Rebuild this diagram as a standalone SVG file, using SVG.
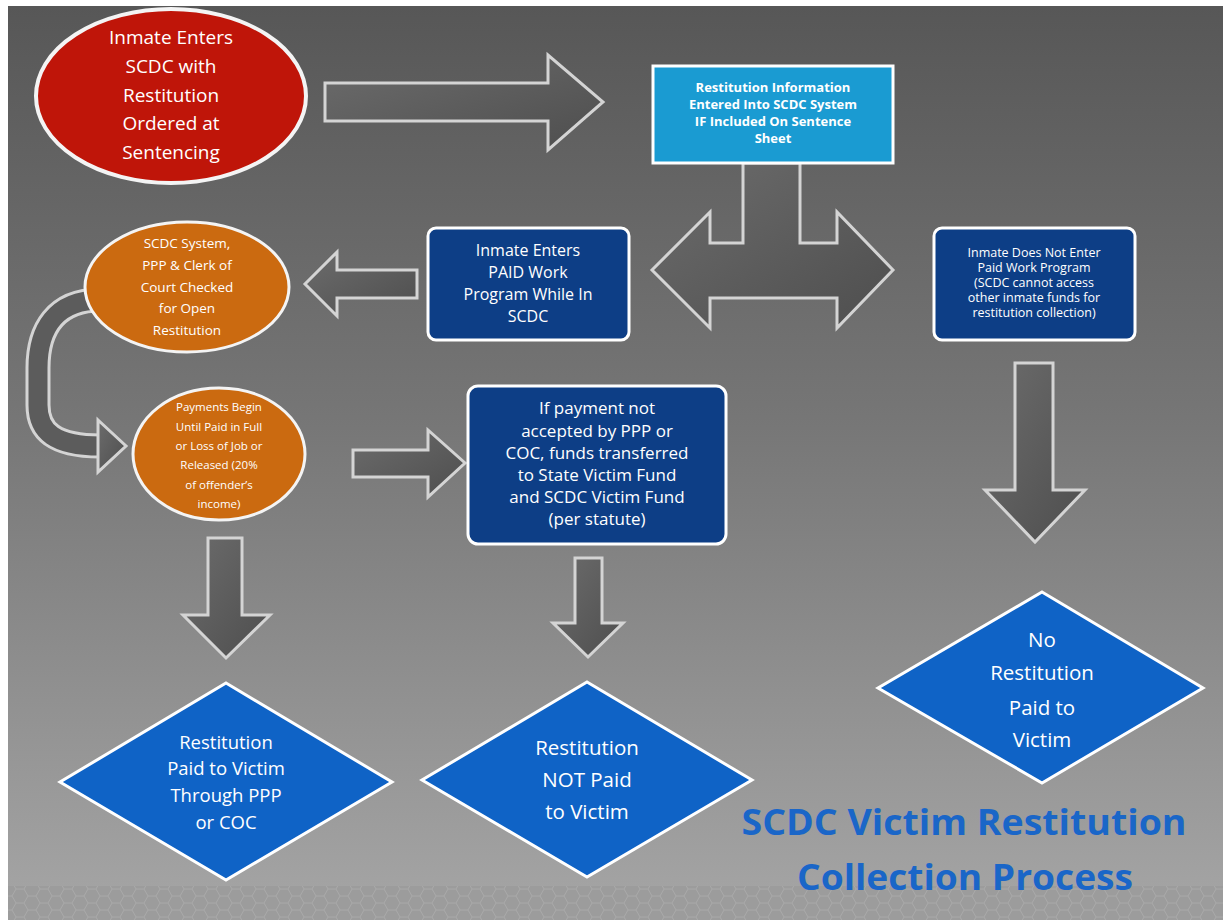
<svg xmlns="http://www.w3.org/2000/svg" width="1223" height="920" viewBox="0 0 1223 920">
<defs>
<linearGradient id="bg" x1="0" y1="0" x2="0" y2="1">
<stop offset="0" stop-color="#575757"/>
<stop offset="0.45" stop-color="#767676"/>
<stop offset="1" stop-color="#a6a6a6"/>
</linearGradient>
<linearGradient id="ag" x1="0" y1="0" x2="1" y2="1">
<stop offset="0" stop-color="#6c6c6c"/>
<stop offset="1" stop-color="#4e4e4e"/>
</linearGradient>
<pattern id="hex" width="24" height="14" patternUnits="userSpaceOnUse">
<path d="M0 7 L4 0 L12 0 L16 7 L12 14 L4 14 Z M16 7 L24 7" fill="none" stroke="#a9a9a9" stroke-width="1"/>
</pattern>
<style>
.arr{fill:url(#ag);stroke:#d4d4d4;stroke-width:3;stroke-linejoin:miter}
.t{font-family:"Open Sans",Lato,"Liberation Sans",sans-serif;fill:#ffffff;text-anchor:middle}
.b{font-weight:bold}
.navy{fill:#0d3e86;stroke:#ffffff;stroke-width:3}
.orange{fill:#cb6a10;stroke:#f4f4f4;stroke-width:3}
.dia{fill:#0f63c6;stroke:#ffffff;stroke-width:3;stroke-linejoin:miter}
.title{font-family:"Open Sans",Lato,"Liberation Sans",sans-serif;font-weight:bold;fill:#1a66c8;text-anchor:middle}
</style>
</defs>
<rect x="0" y="0" width="1223" height="920" fill="#ffffff"/>
<rect x="8" y="6" width="1215" height="914" fill="url(#bg)"/>
<rect x="8" y="886" width="1215" height="34" fill="#9c9c9c"/>
<rect x="8" y="886" width="1215" height="34" fill="url(#hex)"/>

<g id="connectors">
<polygon class="arr" points="325,83 548,83 548,55 603,102 548,150 548,121 325,121"/>
<polygon class="arr" points="743,163 743,243 710,243 710,212 652,270 710,328 710,298 837,298 837,328 893,270 837,212 837,243 800,243 800,163"/>
<polygon class="arr" points="417,270 337,270 337,252 305,284 337,316 337,298 417,298"/>
<path d="M 100 300 C 55 300, 38 330, 38 368 L 38 405 C 38 432, 55 446, 100 446" fill="none" stroke="#d4d4d4" stroke-width="25"/>
<path d="M 100 300 C 55 300, 38 330, 38 368 L 38 405 C 38 432, 55 446, 100 446" fill="none" stroke="#5c5c5c" stroke-width="19"/>
<polygon class="arr" points="98,420 126,446 98,472"/>
<polygon class="arr" points="353,450 428,450 428,430 465,463 428,497 428,477 353,477"/>
<polygon class="arr" points="1015,363 1053,363 1053,490 1085,490 1035,542 985,490 1015,490"/>
<polygon class="arr" points="575,558 602,558 602,623 623,623 588,657 553,623 575,623"/>
<polygon class="arr" points="208,538 242,538 242,615 270,615 226,658 183,615 208,615"/>
</g>

<g id="n-start">
<ellipse cx="171" cy="96" rx="135" ry="87" fill="#bf1509" stroke="#f4f4f4" stroke-width="4"/>
<text class="t" font-size="19"><tspan x="171" y="44">Inmate Enters</tspan><tspan x="171" y="73">SCDC with</tspan><tspan x="171" y="102">Restitution</tspan><tspan x="171" y="130">Ordered at</tspan><tspan x="171" y="159">Sentencing</tspan></text>
</g>

<g id="n-entered">
<rect x="653" y="66" width="240" height="97" fill="#1a9bd2" stroke="#ffffff" stroke-width="3"/>
<text class="t b" font-size="13"><tspan x="773" y="92">Restitution Information</tspan><tspan x="773" y="109">Entered Into SCDC System</tspan><tspan x="773" y="126">IF Included On Sentence</tspan><tspan x="773" y="143">Sheet</tspan></text>
</g>

<g id="n-paid">
<rect x="428" y="228" width="201" height="112" rx="8" class="navy"/>
<text class="t" font-size="16"><tspan x="528" y="256">Inmate Enters</tspan><tspan x="528" y="278">PAID Work</tspan><tspan x="528" y="300">Program While In</tspan><tspan x="528" y="322">SCDC</tspan></text>
</g>

<g id="n-notpaid">
<rect x="934" y="228" width="201" height="112" rx="8" class="navy"/>
<text class="t" font-size="12.5"><tspan x="1034" y="257">Inmate Does Not Enter</tspan><tspan x="1034" y="272">Paid Work Program</tspan><tspan x="1034" y="287">(SCDC cannot access</tspan><tspan x="1034" y="302">other inmate funds for</tspan><tspan x="1034" y="317">restitution collection)</tspan></text>
</g>

<g id="n-check">
<ellipse cx="187" cy="287" rx="102" ry="65" class="orange"/>
<text class="t" font-size="13.5"><tspan x="187" y="248">SCDC System,</tspan><tspan x="187" y="270">PPP &amp; Clerk of</tspan><tspan x="187" y="292">Court Checked</tspan><tspan x="187" y="313">for Open</tspan><tspan x="187" y="335">Restitution</tspan></text>
</g>

<g id="n-payments">
<ellipse cx="219" cy="454" rx="86" ry="66" class="orange"/>
<text class="t" font-size="11.5"><tspan x="219" y="411">Payments Begin</tspan><tspan x="219" y="431">Until Paid in Full</tspan><tspan x="219" y="450">or Loss of Job or</tspan><tspan x="219" y="469">Released (20%</tspan><tspan x="219" y="489">of offender’s</tspan><tspan x="219" y="508">income)</tspan></text>
</g>

<g id="n-notaccepted">
<rect x="468" y="386" width="258" height="158" rx="10" class="navy"/>
<text class="t" font-size="17"><tspan x="597" y="414">If payment not</tspan><tspan x="597" y="437">accepted by PPP or</tspan><tspan x="597" y="459">COC, funds transferred</tspan><tspan x="597" y="481">to State Victim Fund</tspan><tspan x="597" y="503">and SCDC Victim Fund</tspan><tspan x="597" y="525">(per statute)</tspan></text>
</g>

<g id="n-paidvictim">
<polygon class="dia" points="226,683 392,782 226,880 60,782"/>
<text class="t" font-size="18.5"><tspan x="226" y="749">Restitution</tspan><tspan x="226" y="775">Paid to Victim</tspan><tspan x="226" y="802">Through PPP</tspan><tspan x="226" y="829">or COC</tspan></text>
</g>

<g id="n-notpaidvictim">
<polygon class="dia" points="587,682 752,780 587,877 422,780"/>
<text class="t" font-size="20.5"><tspan x="587" y="755">Restitution</tspan><tspan x="587" y="787">NOT Paid</tspan><tspan x="587" y="819">to Victim</tspan></text>
</g>

<g id="n-norestitution">
<polygon class="dia" points="1042,592 1203,688 1042,783 878,688"/>
<text class="t" font-size="20.5"><tspan x="1042" y="647">No</tspan><tspan x="1042" y="680">Restitution</tspan><tspan x="1042" y="715">Paid to</tspan><tspan x="1042" y="747">Victim</tspan></text>
</g>

<g id="title">
<text class="title" font-size="36"><tspan x="964" y="835" textLength="445" lengthAdjust="spacingAndGlyphs">SCDC Victim Restitution</tspan><tspan x="965" y="890" textLength="336" lengthAdjust="spacingAndGlyphs">Collection Process</tspan></text>
</g>
</svg>
